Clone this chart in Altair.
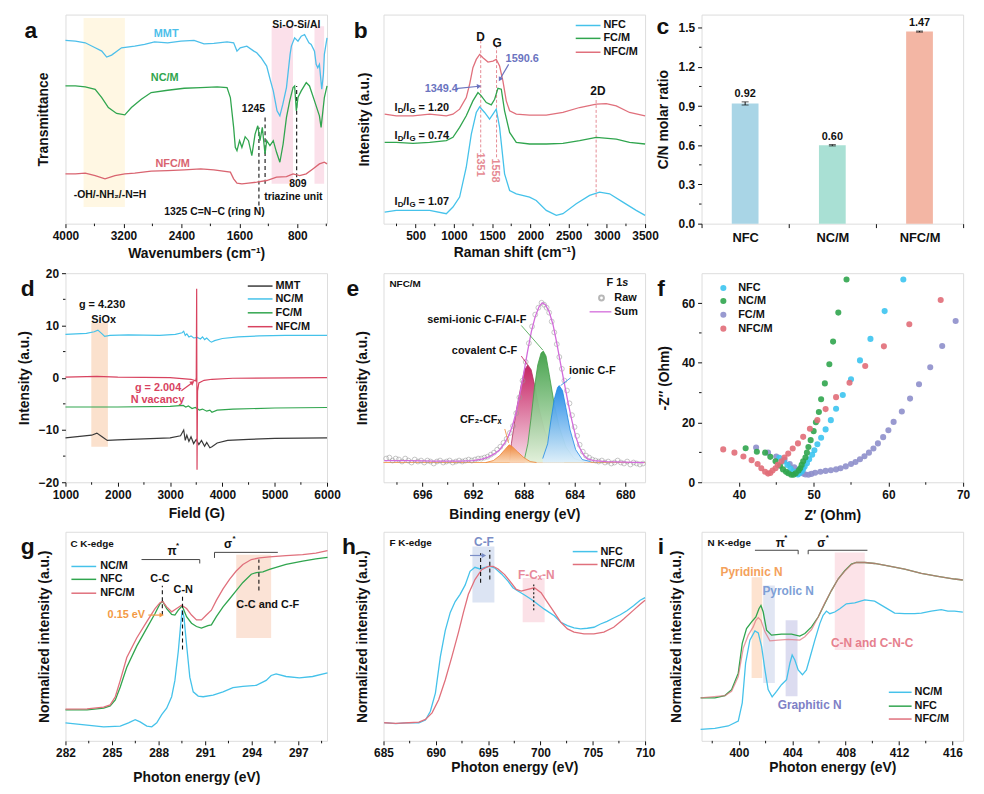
import math
import altair as alt
import pandas as pd

FONT = "Liberation Sans"
W, H = 264, 211
INK = "#111111"
ONE = pd.DataFrame({"k": [0]})

# ---------------- colours ----------------
C_BLUE = "#45C2EA"
C_GREEN = "#30A54E"
C_PINK = "#E0707C"
C_RED = "#D8435F"
C_DARK = "#3A3A3A"
C_LAV = "#8E8FCB"

# ================= DATA =================
# (a) FTIR, wavenumber (cm-1) / transmittance (a.u.)
a_wn_mmt = [4000, 3863, 3727, 3590, 3499, 3431, 3363, 3226, 3044, 2908, 2771, 2589, 2407, 2225, 2088, 1952,
            1770, 1679, 1633, 1588, 1497, 1400, 1360, 1300, 1223, 1170, 1132, 1080, 1041, 1000, 950, 900,
            882, 837, 791, 746, 700, 677, 640, 609, 563, 540, 518, 495, 463, 440, 427, 390]
a_mmt = [552, 550, 545, 530, 520, 502, 508, 530, 535, 540, 548, 545, 550, 552, 542, 543,
         548, 545, 520, 530, 535, 520, 515, 500, 475, 430, 400, 340, 325, 360, 410, 510,
         535, 560, 550, 565, 570, 560, 545, 540, 520, 480, 470, 480, 405, 450, 510, 560]
a_wn_nc = [4000, 3863, 3727, 3590, 3499, 3408, 3294, 3181, 3090, 2953, 2817, 2589, 2361, 2134, 1906, 1770,
           1724, 1679, 1656, 1633, 1597, 1565, 1520, 1474, 1428, 1383, 1346, 1315, 1283, 1246, 1223, 1178,
           1132, 1087, 1041, 996, 950, 905, 859, 837, 814, 791, 746, 677, 632, 563, 495, 472, 427, 390]
a_nc = [415, 415, 412, 405, 380, 350, 332, 328, 350, 375, 395, 402, 408, 410, 412, 410,
        380, 290, 230, 220, 250, 230, 262, 250, 205, 270, 295, 250, 290, 210, 250, 235,
        250, 215, 185, 240, 320, 370, 410, 415, 340, 380, 400, 425, 415, 370, 325, 290, 380, 415]
a_wn_nfc = [4000, 3863, 3727, 3590, 3454, 3317, 3181, 3044, 2817, 2589, 2361, 2134, 1952, 1724, 1679,
            1633, 1565, 1474, 1360, 1223, 1087, 950, 859, 768, 677, 586, 495, 427, 390]
a_nfc = [150, 150, 152, 145, 135, 145, 150, 152, 158, 160, 162, 165, 162, 155, 135,
         122, 120, 122, 125, 130, 140, 142, 150, 145, 150, 165, 180, 185, 180]

# (b) Raman
b_x_nfcm = [95, 247, 465, 683, 901, 988, 1075, 1162, 1206, 1249, 1293, 1337, 1380, 1446, 1511, 1554,
            1598, 1641, 1685, 1729, 1816, 1990, 2208, 2426, 2644, 2862, 2992, 3123, 3297, 3500]
b_nfcm = [330, 325, 325, 330, 325, 330, 345, 380, 420, 470, 495, 510, 500, 487, 490, 495,
          475, 430, 370, 340, 330, 327, 327, 335, 350, 360, 362, 355, 335, 325]
b_x_fcm = [95, 247, 465, 683, 901, 988, 1075, 1162, 1249, 1315, 1358, 1424, 1489, 1533, 1576, 1620,
           1663, 1729, 1816, 1990, 2208, 2426, 2644, 2862, 3123, 3297, 3500]
b_fcm = [245, 245, 242, 245, 250, 260, 290, 325, 370, 395, 385, 365, 358, 375, 408, 405,
         340, 275, 245, 240, 240, 242, 250, 260, 255, 245, 240]
b_x_nfc = [95, 247, 465, 683, 901, 988, 1075, 1162, 1228, 1293, 1337, 1402, 1467, 1511, 1554, 1598,
           1663, 1729, 1816, 1990, 2077, 2208, 2339, 2426, 2600, 2775, 2905, 3036, 3210, 3384, 3500]
b_nfc = [35, 40, 40, 40, 30, 50, 80, 170, 270, 335, 352, 335, 315, 330, 345, 290,
         150, 100, 90, 80, 70, 40, 25, 30, 60, 85, 95, 90, 65, 40, 25]

# (c) C/N molar ratio
c_cats = ["NFC", "NC/M", "NFC/M"]
c_vals = [0.92, 0.60, 1.47]
c_errs = [0.012, 0.005, 0.004]
c_cols = ["#A9D5E6", "#A9E0D4", "#F3B6A4"]

# (d) EPR
d_x_mmt = [1000, 1500, 1600, 1700, 1800, 2000, 2500, 3000, 3200, 3260, 3290, 3320, 3360, 3400, 3450,
           3500, 3550, 3600, 3660, 3700, 3760, 3800, 3900, 4100, 4500, 5000, 6000]
d_mmt = [-11.5, -11.0, -10.6, -11.3, -12.0, -11.9, -11.7, -11.5, -11.1, -10.0, -12.0, -11.0, -12.2, -11.3,
         -12.6, -11.8, -12.8, -12.0, -13.1, -12.4, -13.4, -13.2, -12.5, -12.0, -11.8, -11.6, -11.5]
d_x_nc = [1000, 1400, 1550, 1620, 1700, 1750, 1850, 2200, 2800, 3100, 3230, 3260, 3290, 3320, 3360,
          3400, 3450, 3520, 3580, 3620, 3660, 3700, 3760, 3790, 3850, 4000, 4300, 4700, 5200, 6000]
d_nc = [8.3, 8.5, 8.8, 9.1, 8.4, 7.9, 8.1, 8.2, 8.1, 8.3, 8.6, 8.9, 8.1, 8.4, 7.8,
        8.0, 7.6, 7.7, 7.4, 7.8, 7.3, 7.6, 7.0, 6.8, 7.1, 7.5, 7.8, 8.0, 8.1, 8.1]
d_x_fc = [1000, 2000, 3000, 3250, 3300, 3350, 3420, 3480, 3560, 3620, 3700, 3760, 3800, 3900, 4200, 5000, 6000]
d_fc = [-5.6, -5.6, -5.5, -5.3, -5.6, -5.4, -5.9, -5.7, -6.2, -6.0, -6.4, -6.2, -6.6, -6.2, -6.0, -5.8, -5.7]
d_x_nfc = [1000, 1600, 2000, 3000, 3400, 3490, 3500, 3508, 3515, 3525, 3550, 3650, 3800, 4200, 6000]
d_nfc = [0.1, 0.25, 0.1, 0.0, -0.3, -0.6, 0.0, 17.0, -17.6, -2.5, -1.0, -0.5, -0.3, -0.1, 0.0]

# (e) XPS F 1s
e_raw_x = [698.85, 698.6, 698.35, 698.1, 697.85, 697.6, 697.35, 697.1, 696.85, 696.6, 696.35, 696.1,
           695.85, 695.6, 695.35, 695.1, 694.85, 694.6, 694.35, 694.1, 693.85, 693.6, 693.35, 693.1,
           692.85, 692.6, 692.35, 692.1, 691.85, 691.6, 691.35, 691.1, 690.85, 690.6, 690.35, 690.1,
           689.85, 689.6, 689.35, 689.1, 688.85, 688.6, 688.35, 688.1, 687.85, 687.6, 687.35, 687.1,
           686.85, 686.6, 686.4, 686.2, 686.0, 685.8, 685.6, 685.4, 685.2, 685.0, 684.8, 684.6,
           684.4, 684.2, 684.0, 683.8, 683.6, 683.35, 683.1, 682.85, 682.6, 682.35, 682.1, 681.85,
           681.6, 681.35, 681.1, 680.85, 680.6, 680.35, 680.1, 679.85, 679.6, 679.35, 679.1, 678.85, 678.6]
e_raw_y = [24, 25, 22, 24, 23, 21, 24, 22, 20, 23, 21, 22,
           20, 22, 21, 19, 21, 22, 20, 21, 22, 20, 21, 22,
           21, 22, 23, 22, 23, 24, 24, 25, 26, 28, 30, 33,
           36, 40, 44, 50, 57, 70, 86, 103, 122, 141, 158, 170,
           177, 182, 180, 177, 172, 163, 152, 140, 127, 115, 103, 93,
           80, 68, 56, 47, 38, 31, 27, 25, 23, 22, 21, 22,
           20, 21, 19, 20, 22, 20, 19, 21, 18, 20, 19, 18, 19]
e_sum_x = [699.0, 697.0, 695.0, 693.0, 692.0, 691.3, 690.8, 690.3, 689.9, 689.5, 689.2, 688.9, 688.6,
           688.3, 688.0, 687.7, 687.4, 687.1, 686.8, 686.55, 686.3, 686.0, 685.7, 685.4, 685.1, 684.8,
           684.5, 684.2, 683.9, 683.6, 683.3, 683.0, 682.5, 681.5, 680.0, 678.5]
e_sum_y = [22, 22, 21.5, 21.5, 22, 23.5, 25.5, 29, 33, 40, 47, 57, 71,
           90, 111, 133, 153, 168, 178, 182, 180, 173, 160, 141, 120, 100,
           80, 62, 46, 35, 28, 24, 22, 21, 20.5, 20]
e_cf2_x = [691.0, 690.4, 689.9, 689.5, 689.16, 688.9, 688.5, 688.0, 687.5, 687.0]
e_cf2_y = [20, 22, 27, 33, 38, 36, 31, 25, 21, 20]
e_cov_x = [689.11, 688.98, 688.59, 688.2, 687.94, 687.68, 687.42, 687.16, 686.77, 686.38, 685.86, 685.34, 684.82]
e_cov_y = [22, 39, 73, 99, 114, 119, 114, 99, 73, 53, 36, 26, 22]
e_semi_x = [687.94, 687.68, 687.42, 687.16, 686.9, 686.64, 686.46, 686.25, 685.99, 685.6, 685.21, 684.69,
            684.04, 683.26]
e_semi_y = [24, 39, 66, 96, 119, 131, 133, 128, 109, 79, 56, 36, 24, 21]
e_ion_x = [686.51, 686.12, 685.86, 685.6, 685.34, 685.21, 684.95, 684.69, 684.35, 683.91, 683.39, 682.74]
e_ion_y = [24, 39, 63, 84, 96, 98, 93, 76, 53, 33, 23, 21]

# (f) Nyquist
f_nfc_x = [62.0, 59.5, 57.6, 56.2, 55.0, 53.9, 53.0, 52.3, 51.6, 51.0, 50.5, 50.1, 49.8, 49.4, 49.1,
           48.8, 48.6, 48.4, 48.1, 47.9, 47.6, 47.3, 46.9, 46.5, 46.0, 45.4]
f_nfc_y = [67.9, 57.3, 48.0, 40.8, 34.5, 29.2, 24.6, 20.8, 17.7, 14.9, 12.7, 10.7, 9.2, 7.7, 6.4,
           5.3, 4.4, 3.6, 3.0, 2.6, 2.9, 3.6, 4.6, 5.8, 7.0, 8.2]
f_nc_x = [54.4, 53.3, 52.6, 52.1, 51.5, 51.0, 50.7, 50.3, 50.0, 49.6, 49.3, 49.1, 48.9, 48.6, 48.4,
          48.2, 48.0, 47.6, 47.3, 47.0, 46.6, 46.3, 45.9, 45.5, 44.9, 44.2, 43.5, 42.4, 40.9]
f_nc_y = [67.9, 56.8, 47.1, 39.5, 33.1, 27.8, 23.5, 20.1, 17.1, 14.1, 11.8, 9.9, 8.3, 7.0, 5.8,
          4.7, 3.9, 3.0, 2.5, 2.5, 3.0, 3.5, 4.3, 5.5, 7.0, 8.5, 9.9, 10.2, 11.4]
f_fc_x = [69.0, 67.2, 65.6, 64.1, 62.9, 61.8, 60.7, 60.0, 59.3, 58.6, 58.0, 57.4, 56.8, 56.2, 55.6,
          55.0, 54.3, 53.6, 53.0, 52.3, 51.6, 50.9, 50.2, 49.7, 49.3, 48.9, 48.6, 48.2, 47.9, 47.4,
          46.8, 46.1, 45.0, 43.9, 42.3]
f_fc_y = [54.0, 45.6, 38.5, 32.8, 28.0, 23.7, 20.2, 17.4, 15.1, 13.0, 11.3, 9.9, 8.7, 7.7, 6.8,
          6.1, 5.3, 4.7, 4.3, 4.0, 3.8, 3.5, 3.2, 2.8, 2.5, 2.6, 2.9, 3.4, 4.1, 5.0,
          6.1, 7.5, 8.6, 9.9, 11.6]
f_nfcm_x = [67.0, 62.8, 59.4, 56.9, 54.8, 53.0, 51.6, 50.5, 49.5, 48.6, 47.9, 47.2, 46.6, 46.1, 45.7,
            45.2, 44.9, 44.5, 44.2, 43.9, 43.5, 43.0, 42.5, 41.7, 40.6, 39.4, 37.9]
f_nfcm_y = [61.0, 52.9, 45.5, 38.9, 33.3, 28.5, 24.5, 20.8, 17.9, 15.2, 13.0, 11.3, 9.6, 8.3, 7.0,
            5.8, 4.7, 3.9, 3.1, 2.9, 3.5, 4.7, 6.1, 7.4, 8.6, 9.9, 11.0]

# (g) C K-edge
g_x_nfcm = [282.0, 283.39, 284.46, 284.88, 285.21, 285.53, 285.95, 286.59, 287.24, 287.77, 288.09, 288.26,
            288.52, 288.84, 289.16, 289.48, 289.80, 290.12, 290.44, 290.76, 291.08, 291.40, 291.72, 292.15,
            292.58, 293.0, 293.43, 293.97, 294.5, 295.14, 296.21, 297.28, 298.13, 298.88]
g_nfcm = [97, 98, 103, 110, 135, 185, 255, 315, 365, 405, 423, 427,
          410, 395, 405, 415, 405, 385, 370, 370, 385, 400, 430, 465,
          495, 520, 540, 555, 560, 563, 567, 570, 575, 582]
g_x_nfc = [282.0, 283.39, 284.46, 284.88, 285.21, 285.53, 285.95, 286.59, 287.24, 287.77, 288.09, 288.26,
           288.52, 288.84, 289.05, 289.27, 289.52, 289.80, 290.12, 290.44, 290.76, 291.18, 291.40, 291.72,
           292.15, 292.58, 293.0, 293.43, 293.97, 294.29, 294.72, 295.14, 296.21, 297.28, 298.13, 298.88]
g_nfc = [95, 95, 100, 107, 125, 165, 225, 290, 345, 390, 420, 427,
         405, 387, 385, 400, 413, 380, 360, 350, 345, 353, 355, 380,
         410, 435, 460, 485, 510, 515, 517, 525, 540, 550, 557, 562]
g_x_nc = [282.0, 283.39, 284.46, 285.53, 286.06, 286.49, 286.81, 287.24, 287.56, 287.88, 288.2, 288.52,
          288.84, 289.05, 289.27, 289.42, 289.52, 289.63, 289.8, 290.01, 290.23, 290.55, 290.87, 291.51,
          292.15, 292.79, 293.43, 294.29, 294.93, 295.25, 295.57, 296.21, 297.07, 297.92, 298.88]
g_nc = [55, 48, 43, 45, 55, 65, 58, 45, 43, 55, 80, 100,
        135, 185, 275, 355, 400, 380, 295, 195, 150, 137, 135, 140,
        150, 163, 167, 170, 185, 200, 205, 197, 193, 197, 208]

# (h) F K-edge
h_x_nfc = [685.06, 686.17, 687.43, 688.38, 689.01, 689.48, 689.96, 690.43, 690.9, 691.38, 691.85, 692.32,
           692.8, 693.27, 693.74, 694.22, 694.69, 695.16, 695.64, 696.27, 696.9, 697.37, 697.85, 698.48,
           699.11, 699.74, 700.37, 701.32, 701.95, 702.58, 703.21, 703.84, 704.48, 705.11, 705.74, 706.37,
           707.0, 707.63, 708.26, 708.9, 709.53, 710.0]
h_nfc = [55, 52, 55, 55, 63, 90, 145, 255, 335, 390, 423, 445,
         473, 515, 527, 522, 527, 530, 525, 507, 485, 465, 455, 443,
         430, 415, 400, 380, 360, 350, 343, 340, 342, 345, 355, 363,
         373, 383, 395, 410, 427, 435]
h_x_nfcm = [685.06, 686.17, 687.43, 688.38, 689.01, 689.64, 690.27, 690.9, 691.53, 692.17, 692.64, 693.11,
            693.74, 694.38, 695.01, 695.48, 695.95, 696.58, 697.21, 697.69, 698.16, 698.79, 699.42, 700.06,
            700.69, 701.32, 701.95, 702.58, 703.21, 704.16, 705.11, 706.06, 707.0, 707.95, 708.9, 709.53, 710.0]
h_nfcm = [55, 53, 55, 57, 65, 85, 125, 185, 255, 330, 390, 445,
          490, 520, 530, 530, 522, 505, 480, 460, 455, 460, 465, 450,
          420, 390, 360, 340, 330, 325, 325, 330, 345, 370, 397, 415, 427]

# (i) N K-edge
i_x_nfc = [397.13, 398.2, 398.95, 399.45, 399.95, 400.25, 400.57, 400.95, 401.27, 401.5, 401.65, 401.82,
           402.07, 402.44, 403.19, 403.94, 404.56, 404.94, 405.44, 405.94, 406.43, 406.93, 407.43, 407.93,
           408.43, 408.8, 409.43, 410.17, 411.17, 412.42, 413.67, 414.91, 416.16, 416.78]
i_nfc = [130, 130, 137, 155, 205, 295, 340, 360, 375, 400, 410, 390,
         335, 320, 323, 323, 317, 325, 345, 375, 415, 455, 490, 515,
         535, 540, 540, 537, 530, 520, 507, 498, 490, 487]
i_x_nfcm = [397.13, 398.95, 399.45, 399.95, 400.32, 400.7, 401.07, 401.27, 401.45, 401.65, 401.95, 402.32,
            402.94, 403.69, 404.56, 404.94, 405.44, 405.94, 406.43, 406.93, 407.43, 407.93, 408.43, 408.8,
            409.43, 410.17, 411.17, 412.42, 413.67, 414.91, 416.16, 416.78]
i_nfcm = [130, 137, 150, 195, 280, 320, 345, 365, 373, 365, 330, 303,
          305, 307, 305, 315, 337, 375, 417, 455, 490, 514, 534, 540,
          540, 537, 530, 520, 507, 498, 490, 487]
i_x_nc = [397.13, 398.2, 399.2, 399.95, 400.25, 400.5, 400.82, 401.2, 401.45, 401.7, 401.95, 402.19,
          402.49, 402.82, 403.19, 403.57, 403.82, 403.99, 404.19, 404.44, 404.76, 405.06, 405.31, 405.69,
          406.06, 406.31, 406.56, 406.81, 407.18, 407.56, 408.05, 408.68, 409.43, 410.17, 410.92, 411.67,
          412.42, 413.17, 413.67, 414.41, 415.16, 415.66, 416.16, 416.78]
i_nc = [35, 38, 45, 60, 115, 235, 305, 333, 327, 285, 215, 155,
        133, 150, 170, 185, 235, 260, 245, 215, 200, 215, 250, 305,
        355, 380, 393, 385, 390, 400, 415, 418, 427, 423, 405, 387,
        385, 385, 387, 393, 397, 393, 393, 390]

# ================= HELPERS =================
AB = {' ': 278, 'I': 278, 'D': 722, 'G': 778, '/': 278, '=': 584, '.': 278, '-': 333, 'F': 611,
      'C': 722, 'N': 722, 's': 556, '1': 556, '*': 389, 'π': 720, 'σ': 720}
for _d in "0123456789":
    AB[_d] = 556


def tw(s, fs):
    return sum(AB.get(ch, 580) for ch in s) * fs / 1000.0


def axis(title, values=None, labels=True, ticks=True, fmt=None, tpad=4, lpad=3, lsize=12, extra=None):
    kw = dict(title=title, grid=False, domain=False, ticks=ticks, tickColor=INK, tickSize=4, tickWidth=1,
              labels=labels, labelFont=FONT, labelFontSize=lsize, labelFontWeight="bold",
              labelColor=INK, labelPadding=lpad, labelFlush=False, labelOverlap=False,
              titleFont=FONT, titleFontSize=14, titleFontWeight="bold", titleColor=INK,
              titlePadding=tpad)
    if values is not None:
        kw["values"] = values
    if fmt:
        kw["format"] = fmt
    if extra:
        kw.update(extra)
    return alt.Axis(**kw)


class Panel:
    def __init__(self, p, xdom, ydom, xaxis, yaxis, xrev=False):
        self.xf, self.yf = p + "x", p + "y"
        self.xdom, self.ydom, self.xrev = xdom, ydom, xrev
        xs = alt.Scale(domain=list(xdom), nice=False, zero=False, reverse=xrev)
        ys = alt.Scale(domain=list(ydom), nice=False, zero=False)
        self.X = alt.X(f"{self.xf}:Q", scale=xs, axis=xaxis)
        self.Y = alt.Y(f"{self.yf}:Q", scale=ys, axis=yaxis)
        self.layers = []

    def px(self, x):
        lo, hi = self.xdom
        t = (x - lo) / (hi - lo)
        return (1 - t if self.xrev else t) * W

    def py(self, y):
        lo, hi = self.ydom
        return H - (y - lo) / (hi - lo) * H

    def line(self, xs, ys, color, width=1.3, opacity=1.0, dash=None):
        assert len(xs) == len(ys)
        d = pd.DataFrame({self.xf: xs, self.yf: ys, "o": list(range(len(xs)))})
        kw = dict(color=color, strokeWidth=width, opacity=opacity)
        if dash:
            kw["strokeDash"] = dash
        self.layers.append(alt.Chart(d).mark_line(**kw).encode(x=self.X, y=self.Y, order="o:Q"))

    def area(self, xs, ys, base, top_col, bot_col, line_col):
        d = pd.DataFrame({self.xf: xs, self.yf: ys, self.yf + "2": [base] * len(xs)})
        grad = alt.LinearGradient(gradient="linear", x1=0, x2=0, y1=0, y2=1,
                                  stops=[alt.GradientStop(offset=0, color=top_col),
                                         alt.GradientStop(offset=1, color=bot_col)])
        self.layers.append(alt.Chart(d).mark_area(color=grad, opacity=0.95).encode(
            x=self.X, y=self.Y, y2=alt.Y2(self.yf + "2")))
        self.line(xs, ys, line_col, width=0.8)

    def points(self, xs, ys, color, size=30, opacity=0.9, filled=True, sw=0.8):
        assert len(xs) == len(ys)
        d = pd.DataFrame({self.xf: xs, self.yf: ys})
        if filled:
            m = alt.Chart(d).mark_circle(color=color, size=size, opacity=opacity)
        else:
            m = alt.Chart(d).mark_point(shape="circle", filled=False, color=color, size=size, strokeWidth=sw)
        self.layers.append(m.encode(x=self.X, y=self.Y))

    def text(self, rows, color=INK, size=11, align="center", angle=0, baseline="middle", italic=False):
        d = pd.DataFrame({self.xf: [r[0] for r in rows], self.yf: [r[1] for r in rows],
                          "t": [r[2] for r in rows]})
        self.layers.append(alt.Chart(d).mark_text(
            font=FONT, fontSize=size, fontWeight="bold", fontStyle="italic" if italic else "normal",
            color=color, align=align, baseline=baseline, angle=angle).encode(x=self.X, y=self.Y, text="t:N"))

    def rich(self, x, y, pieces, color=INK, align="left"):
        total = sum(tw(s, fs) for s, fs, _ in pieces)
        off = {"left": 0, "center": -total / 2, "right": -total}[align]
        for s, fs, dy in pieces:
            lead = len(s) - len(s.lstrip(" "))
            d = pd.DataFrame({self.xf: [x], self.yf: [y]})
            self.layers.append(alt.Chart(d).mark_text(
                text=s.strip(" "), font=FONT, fontSize=fs, fontWeight="bold", color=color, align="left",
                baseline="middle", dx=off + tw(" " * lead, fs), dy=dy).encode(x=self.X, y=self.Y))
            off += tw(s, fs)

    def vrule(self, rows, color, dash=None, width=1.0):
        d = pd.DataFrame({self.xf: [r[0] for r in rows], self.yf: [r[1] for r in rows],
                          self.yf + "2": [r[2] for r in rows]})
        kw = dict(color=color, strokeWidth=width)
        if dash:
            kw["strokeDash"] = dash
        self.layers.append(alt.Chart(d).mark_rule(**kw).encode(x=self.X, y=self.Y, y2=alt.Y2(self.yf + "2")))

    def hrule(self, rows, color, width=1.0):
        d = pd.DataFrame({self.xf: [r[0] for r in rows], self.xf + "2": [r[1] for r in rows],
                          self.yf: [r[2] for r in rows]})
        self.layers.append(alt.Chart(d).mark_rule(color=color, strokeWidth=width).encode(
            x=self.X, x2=alt.X2(self.xf + "2"), y=self.Y))

    def rect(self, rows, color, opacity=1.0):
        d = pd.DataFrame({self.xf: [r[0] for r in rows], self.xf + "2": [r[1] for r in rows],
                          self.yf: [r[2] for r in rows], self.yf + "2": [r[3] for r in rows]})
        self.layers.append(alt.Chart(d).mark_rect(color=color, opacity=opacity).encode(
            x=self.X, x2=alt.X2(self.xf + "2"), y=self.Y, y2=alt.Y2(self.yf + "2")))

    def arrow(self, x1, y1, x2, y2, color, width=1.2, head=26):
        self.line([x1, x2], [y1, y2], color, width)
        sx = self.px(x2) - self.px(x1)
        sy = self.py(y2) - self.py(y1)
        ang = round(math.degrees(math.atan2(sx, -sy)) % 360, 1)
        d = pd.DataFrame({self.xf: [x2], self.yf: [y2]})
        self.layers.append(alt.Chart(d).mark_point(shape="triangle-up", filled=True, color=color,
                                                   size=head, angle=ang, opacity=1).encode(x=self.X, y=self.Y))

    def minor_x(self, vals):
        d = pd.DataFrame({self.xf: vals})
        self.layers.append(alt.Chart(d).mark_rule(color=INK, strokeWidth=1).encode(
            x=self.X, y=alt.value(H), y2=alt.value(H + 2.5)))

    def minor_y(self, vals):
        d = pd.DataFrame({self.yf: vals})
        self.layers.append(alt.Chart(d).mark_rule(color=INK, strokeWidth=1).encode(
            y=self.Y, x=alt.value(0), x2=alt.value(-2.5)))

    # ---- pixel-placed decorations (legends, corner labels) ----
    def ptext(self, s, x, y, size=11, color=INK, align="left", baseline="middle", italic=False):
        self.layers.append(alt.Chart(ONE).mark_text(
            text=s, font=FONT, fontSize=size, fontWeight="bold", fontStyle="italic" if italic else "normal",
            color=color, align=align, baseline=baseline).encode(x=alt.value(x), y=alt.value(y)))

    def prule(self, x1, x2, y, color, width=1.5):
        self.layers.append(alt.Chart(ONE).mark_rule(color=color, strokeWidth=width).encode(
            x=alt.value(x1), x2=alt.value(x2), y=alt.value(y)))

    def letter(self, s, x, y):
        self.ptext(s, x, y, size=23, align="center", baseline="alphabetic")

    def legend_lines(self, entries, x0, x1, xl, ys):
        for (lab, col), y in zip(entries, ys):
            self.prule(x0, x1, y, col)
            self.ptext(lab, xl, y)

    def chart(self):
        return alt.layer(*self.layers).properties(width=W, height=H)


def noy(title, tpad):
    return axis(title, labels=False, ticks=False, tpad=tpad)


# ================= PANELS =================
def panel_a():
    P = Panel("a", (390, 4000), (0, 630),
              axis("Wavenumbers (cm\u207b\u00b9)", values=[4000, 3200, 2400, 1600, 800], fmt="d", tpad=5),
              noy("Transmittance", 15), xrev=True)
    P.rect([(3750, 3180, 50, 620)], "#FFF7E3")
    P.rect([(1155, 860, 120, 595), (563, 430, 120, 595)], "#FBE0EA")
    P.vrule([(1330, 55, 290), (1245, 120, 325), (809, 140, 415)], INK, dash=[4, 3], width=1.1)
    P.line(a_wn_mmt, a_mmt, "#4DBFEA")
    P.line(a_wn_nc, a_nc, C_GREEN)
    P.line(a_wn_nfc, a_nfc, "#D96470")
    P.text([(2610, 570, "MMT")], color="#4DBFEA")
    P.text([(2630, 438, "NC/M")], color=C_GREEN)
    P.text([(2520, 180, "NFC/M")], color="#D96470")
    P.text([(814, 598, "Si-O-Si/Al"), (1406, 345, "1245"), (791, 120, "809"), (855, 80, "triazine unit"),
            (3385, 85, "-OH/-NH\u2082/-N=H"), (1943, 35, "1325 C=N\u2212C (ring N)")], size=10.5)
    P.minor_x([3600, 2800, 2000, 1200, 400])
    P.letter("a", -35, 24)
    return P.chart()


def panel_b():
    P = Panel("b", (80, 3500), (0, 630),
              axis("Raman shift (cm\u207b\u00b9)", values=[500, 1000, 1500, 2000, 2500, 3000, 3500], fmt="d", tpad=4),
              noy("Intensity (a.u.)", 12))
    P.vrule([(1351, 200, 550), (1558, 200, 535), (2860, 80, 380)], "#E58A93", dash=[3, 2], width=1)
    P.line(b_x_nfc, b_nfc, C_BLUE)
    P.line(b_x_fcm, b_fcm, C_GREEN)
    P.line(b_x_nfcm, b_nfcm, C_PINK)
    P.text([(1350, 562, "D"), (1567, 545, "G"), (2883, 400, "2D")], size=12)
    P.text([(835, 405, "1349.4"), (1894, 495, "1590.6")], color="#6B74BF")
    P.arrow(1023, 407, 1330, 414, "#6B74BF")
    P.arrow(1716, 480, 1602, 435, "#6B74BF")
    P.text([(1337, 178, "1351"), (1533, 160, "1558")], color="#E58A93", angle=90)
    for yv, val in [(348, " = 1.20"), (265, " = 0.74"), (65, " = 1.07")]:
        P.rich(225, yv, [("I", 11, 0), ("D", 8, 3), ("/I", 11, 0), ("G", 8, 3), (val, 11, 0)])
    P.legend_lines([("NFC", C_BLUE), ("FC/M", C_GREEN), ("NFC/M", C_PINK)], 194, 219, 222, [11, 24, 38])
    P.minor_x([250, 750, 1250, 1750, 2250, 2750, 3250])
    P.letter("b", -23, 24)
    return P.chart()


def panel_c():
    cs = alt.Scale(domain=[0, 1.6], nice=False, zero=False)
    X = alt.X("cx:N", sort=c_cats, scale=alt.Scale(paddingInner=0, paddingOuter=0),
              axis=axis(None, lsize=13, extra=dict(tickBand="extent", labelAngle=0, labelPadding=4)))
    Y = alt.Y("cy:Q", scale=cs, axis=axis("C/N molar ratio", values=[0, 0.3, 0.6, 0.9, 1.2, 1.5],
                                          fmt=".1f", tpad=8))
    lo = [v - e for v, e in zip(c_vals, c_errs)]
    hi = [v + e for v, e in zip(c_vals, c_errs)]
    d = pd.DataFrame({"cx": c_cats, "cy": c_vals, "col": c_cols})
    de = pd.DataFrame({"cx": c_cats, "cy": lo, "cy2": hi})
    dcap = pd.DataFrame({"cx": c_cats * 2, "cy": lo + hi})
    dlab = pd.DataFrame({"cx": c_cats, "cy": hi, "lab": ["%.2f" % v for v in c_vals]})
    bars = alt.Chart(d).mark_bar(size=27).encode(x=X, y=Y, color=alt.Color("col:N", scale=None))
    err = alt.Chart(de).mark_rule(color=INK, strokeWidth=1).encode(x=X, y=Y, y2=alt.Y2("cy2"))
    caps = alt.Chart(dcap).mark_tick(color=INK, size=7, thickness=1).encode(x=X, y=Y)
    labs = alt.Chart(dlab).mark_text(font=FONT, fontSize=11, fontWeight="bold", color=INK, dy=-8,
                                     baseline="middle").encode(x=X, y=Y, text="lab:N")
    minor = alt.Chart(pd.DataFrame({"cy": [0.15, 0.45, 0.75, 1.05, 1.35]})).mark_rule(
        color=INK, strokeWidth=1).encode(y=Y, x=alt.value(0), x2=alt.value(-2.5))
    let = alt.Chart(ONE).mark_text(text="c", font=FONT, fontSize=23, fontWeight="bold", color=INK,
                                   align="center", baseline="alphabetic").encode(x=alt.value(-39), y=alt.value(20))
    return alt.layer(bars, err, caps, labs, minor, let).properties(width=W, height=H)


def panel_d():
    P = Panel("d", (1000, 6000), (-20, 20),
              axis("Field (G)", values=[1000, 2000, 3000, 4000, 5000, 6000], fmt="d", tpad=7),
              axis("Intensity (a.u.)", values=[-20, -10, 0, 10, 20], fmt="d", tpad=7))
    P.rect([(1494, 1811, -13.2, 10.5)], "#FBE1CD")
    P.line(d_x_mmt, d_mmt, C_DARK, width=1.2)
    P.line(d_x_nc, d_nc, C_BLUE, width=1.2)
    P.line(d_x_fc, d_fc, C_GREEN, width=1.2)
    P.line(d_x_nfc, d_nfc, C_RED, width=1.2)
    P.text([(1700, 13.9, "g = 4.230"), (1730, 11.1, "SiOx")])
    P.text([(2770, -1.9, "g = 2.004"), (2760, -4.3, "N vacancy")], color=C_RED)
    P.arrow(3215, -2.5, 3430, -0.9, C_RED)
    P.legend_lines([("MMT", C_DARK), ("NC/M", C_BLUE), ("FC/M", C_GREEN), ("NFC/M", C_RED)],
                   184, 209, 212, [13, 26, 40, 54])
    P.minor_x([1500, 2500, 3500, 4500, 5500])
    P.minor_y([-15, -5, 5, 15])
    P.letter("d", -38, 23)
    return P.chart()


def panel_e():
    P = Panel("e", (678.44, 699.06), (0, 212),
              axis("Binding energy (eV)", values=[696, 692, 688, 684, 680], fmt="d", tpad=8),
              noy("Intensity (a.u.)", 14), xrev=True)
    P.line([699.06, 678.44], [20, 20], "#F2A35E", width=1)
    P.area(e_cov_x, e_cov_y, 20, "#C2185B", "#F9DDE9", "#B0305E")
    P.area(e_semi_x, e_semi_y, 20, "#3E9E45", "#E1F1DA", "#3E9E45")
    P.area(e_ion_x, e_ion_y, 20, "#1E88E5", "#DDEFFB", "#1E88E5")
    P.area(e_cf2_x, e_cf2_y, 20, "#EE8434", "#FAD7B6", "#EE8434")
    P.points(e_raw_x, e_raw_y, "#9A9A9A", size=24, filled=False, sw=0.8)
    P.line(e_sum_x, e_sum_y, "#D36BDB", width=1.3)
    P.line([688.2, 686.5], [159, 134], "#3E9E45", width=0.8)
    P.line([688.2, 687.7], [128, 119], "#C2185B", width=0.8)
    P.line([684.3, 685.1], [106, 98], "#1E88E5", width=0.8)
    P.line([689.5, 689.2], [54, 40], "#EE8434", width=0.8)
    P.text([(691.71, 165, "semi-ionic C-F/Al-F"), (691.1, 133, "covalent C-F"),
            (682.6, 113, "ionic C-F"), (691.4, 63, "CF\u2082-CF\u2093")])
    P.ptext("NFC/M", 6, 11, size=10)
    P.ptext("F 1", 241, 10, size=11, align="right")
    P.ptext("s", 241, 10, size=11, italic=True)
    P.layers.append(alt.Chart(ONE).mark_point(shape="circle", filled=False, color="#9A9A9A", size=24).encode(
        x=alt.value(220), y=alt.value(25)))
    P.ptext("Raw", 233, 25)
    P.prule(208, 230, 39, "#D36BDB", width=1.3)
    P.ptext("Sum", 233, 39)
    P.minor_x([698, 694, 690, 686, 682])
    P.letter("e", -31, 23)
    return P.chart()


def panel_f():
    P = Panel("f", (35, 70), (0, 70),
              axis("Z\u2032 (Ohm)", values=[40, 50, 60, 70], fmt="d", tpad=9),
              axis("-Z\u2033 (Ohm)", values=[0, 20, 40, 60], fmt="d", tpad=10))
    P.points(f_fc_x, f_fc_y, C_LAV, size=38)
    P.points(f_nfc_x, f_nfc_y, "#3CC4F0", size=38)
    P.points(f_nc_x, f_nc_y, C_GREEN, size=38)
    P.points(f_nfcm_x, f_nfcm_y, "#E16D78", size=38)
    for (lab, col), y in zip([("NFC", "#3CC4F0"), ("NC/M", C_GREEN), ("FC/M", C_LAV), ("NFC/M", "#E16D78")],
                             [15, 28, 42, 56]):
        P.layers.append(alt.Chart(ONE).mark_circle(color=col, size=38, opacity=0.9).encode(
            x=alt.value(22), y=alt.value(y)))
        P.ptext(lab, 37, y)
    P.minor_x([45, 55, 65])
    P.minor_y([10, 30, 50])
    P.letter("f", -41, 23)
    return P.chart()


def panel_g():
    P = Panel("g", (282, 298.85), (0, 640),
              axis("Photon energy (eV)", values=[282, 285, 288, 291, 294, 297], fmt="d", tpad=12),
              noy("Normalized intensity (a.u.)", 14))
    P.rect([(293.0, 295.25, 315, 570)], "#FBE3D6")
    P.line(g_x_nc, g_nc, C_BLUE)
    P.line(g_x_nfc, g_nfc, C_GREEN)
    P.line(g_x_nfcm, g_nfcm, C_PINK)
    P.vrule([(288.24, 385, 475), (289.54, 280, 445), (294.46, 460, 555)], INK, dash=[4, 3], width=1.1)
    P.hrule([(286.9, 290.65, 555), (291.6, 295.68, 577)], "#444444", width=1)
    P.vrule([(290.65, 543, 555), (291.6, 560, 577)], "#444444", width=1)
    P.rich(288.94, 582, [("\u03c0", 12, 0), ("*", 8, -5)], align="center")
    P.rich(292.58, 603, [("\u03c3", 12, 0), ("*", 8, -5)], align="center")
    P.text([(288.09, 495, "C-C"), (289.59, 463, "C-N"), (295.03, 417, "C-C and C-F")])
    P.text([(287.13, 385, "0.15 eV")], color="#F39A45", align="right")
    P.arrow(287.34, 385, 288.2, 385, "#F39A45")
    P.ptext("C K-edge", 5, 12, size=10)
    P.legend_lines([("NC/M", C_BLUE), ("NFC", C_GREEN), ("NFC/M", C_PINK)], 6, 31, 35, [35, 48, 62])
    P.minor_x([283.5, 286.5, 289.5, 292.5, 295.5, 298.5])
    P.letter("g", -38, 22)
    return P.chart()


def panel_h():
    P = Panel("h", (685, 710), (0, 635),
              axis("Photon energy (eV)", values=[685, 690, 695, 700, 705, 710], fmt="d", tpad=2),
              noy("Normalized intensity (a.u.)", 14))
    P.rect([(693.5, 695.6, 420, 590)], "#DCE4F3")
    P.rect([(698.3, 700.4, 360, 495)], "#FBE1E7")
    P.line(h_x_nfc, h_nfc, C_BLUE)
    P.line(h_x_nfcm, h_nfcm, C_PINK)
    P.vrule([(694.28, 480, 570), (695.16, 490, 580)], INK, dash=[4, 3], width=1.1)
    P.vrule([(699.36, 397, 480)], INK, dash=[2, 2], width=1.1)
    P.text([(694.6, 603, "C-F")], color="#7A8DC6", size=12)
    P.text([(699.6, 505, "F-C\u2093-N")], color="#E8899A", size=12)
    P.arrow(693.27, 563, 694.6, 563, "#7A8DC6")
    P.ptext("F K-edge", 6, 11, size=10)
    P.legend_lines([("NFC", C_BLUE), ("NFC/M", C_PINK)], 191, 216, 219, [20, 33])
    P.minor_x([687.5, 692.5, 697.5, 702.5, 707.5])
    P.letter("h", -35, 22)
    return P.chart()


def panel_i():
    P = Panel("i", (397.2, 416.8), (0, 633),
              axis("Photon energy (eV)", values=[400, 404, 408, 412, 416], fmt="d", tpad=2),
              noy("Normalized intensity (a.u.)", 18))
    P.rect([(400.95, 401.75, 190, 495)], "#FDE3D0")
    P.rect([(401.82, 402.69, 175, 470)], "#E1E6F3")
    P.rect([(403.5, 404.39, 135, 365)], "#DCDCF0")
    P.rect([(407.18, 409.43, 275, 570)], "#FCE3E8")
    P.line(i_x_nc, i_nc, C_BLUE)
    P.line(i_x_nfc, i_nfc, C_GREEN)
    P.line(i_x_nfcm, i_nfcm, C_PINK, opacity=0.7)
    P.hrule([(401.2, 404.44, 577), (405.19, 409.63, 577)], "#444444", width=1)
    P.vrule([(404.44, 565, 577), (405.19, 565, 577)], "#444444", width=1)
    P.rich(403.19, 598, [("\u03c0", 12, 0), ("*", 8, -5)], align="center")
    P.rich(406.31, 598, [("\u03c3", 12, 0), ("*", 8, -5)], align="center")
    P.text([(400.95, 510, "Pyridinic N")], color="#F4A15B", size=12)
    P.text([(403.69, 455, "Pyrolic N")], color="#7E9FD6", size=12)
    P.text([(405.3, 107, "Graphitic N")], color="#7E80C6", size=12)
    P.text([(409.98, 295, "C-N and C-N-C")], color="#E6808E", size=12)
    P.ptext("N K-edge", 6, 11, size=10)
    P.legend_lines([("NC/M", C_BLUE), ("NFC", C_GREEN), ("NFC/M", C_PINK)], 189, 212, 215, [162, 176, 189])
    P.minor_x([398, 402, 406, 410, 414])
    P.letter("i", -41, 22)
    return P.chart()


panels = [panel_a(), panel_b(), panel_c(), panel_d(), panel_e(), panel_f(), panel_g(), panel_h(), panel_i()]

chart = alt.concat(*panels, columns=3, spacing=alt.RowColnumber(row=50, column=57), bounds="flush").properties(
    padding={"left": 9, "top": 2, "right": 5, "bottom": 5}
).configure_view(stroke=INK, strokeWidth=1).configure(font=FONT, background="white")

chart.save("out.html", embed_options={"renderer": "svg", "actions": False})
